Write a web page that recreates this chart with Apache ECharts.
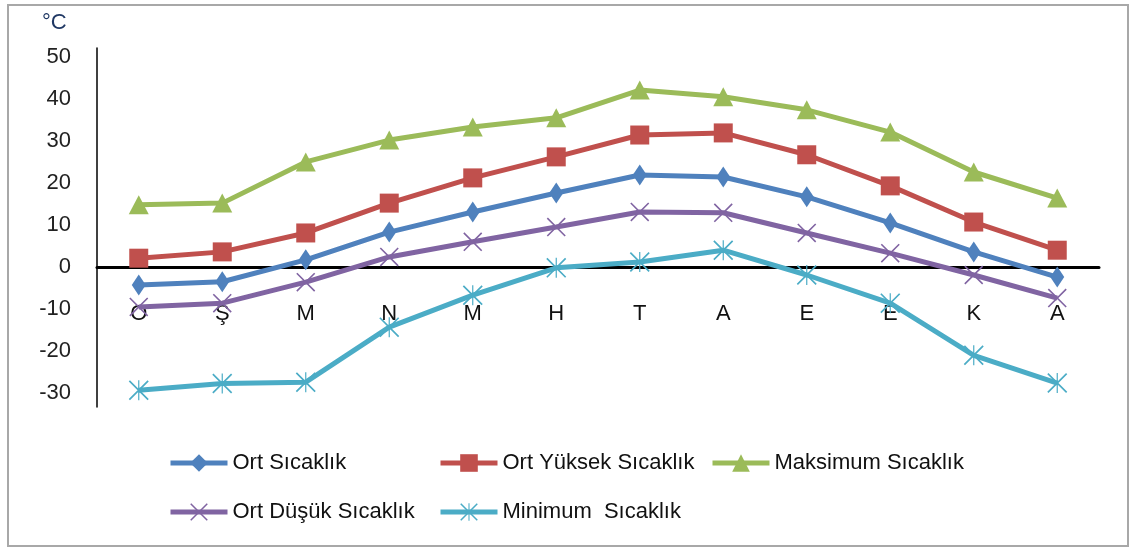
<!DOCTYPE html>
<html>
<head>
<meta charset="utf-8">
<script src="https://cdn.jsdelivr.net/npm/echarts@6/dist/echarts.min.js"></script>
<style>
html,body{margin:0;padding:0;background:#fff;}
#chart{width:1130px;height:548px;}
</style>
</head>
<body>
<div id="chart"></div>
<script>
const categories = ['O', 'Ş', 'M', 'N', 'M', 'H', 'T', 'A', 'E', 'E', 'K', 'A'];
const yTickValues = [-30, -20, -10, 0, 10, 20, 30, 40, 50];
const seriesNames = ['Ort Sıcaklık', 'Ort Yüksek Sıcaklık', 'Maksimum Sıcaklık', 'Ort Düşük Sıcaklık', 'Minimum  Sıcaklık'];
const ortSicaklik = [-4.3, -3.5, 1.7, 8.3, 13.1, 17.6, 21.9, 21.4, 16.7, 10.5, 3.6, -2.4];
const ortYuksek = [2.1, 3.6, 8.1, 15.2, 21.2, 26.2, 31.4, 31.9, 26.7, 19.3, 10.7, 4.0];
const maksimum = [14.8, 15.2, 25.0, 30.2, 33.3, 35.5, 42.1, 40.5, 37.4, 32.1, 22.6, 16.4];
const ortDusuk = [-9.5, -8.6, -3.6, 2.4, 6.0, 9.5, 13.1, 12.9, 8.1, 3.3, -1.9, -7.4];
const minimum = [-29.3, -27.7, -27.4, -14.3, -6.7, -0.2, 1.2, 4.0, -1.9, -8.6, -21.0, -27.6];

const xPath = 'path://M0 1.2 L1.2 0 L20 18.8 L18.8 20 Z M18.8 0 L20 1.2 L1.2 20 L0 18.8 Z';
const starPath = 'path://M0 1.2 L1.2 0 L20 18.8 L18.8 20 Z M18.8 0 L20 1.2 L1.2 20 L0 18.8 Z M9.4 0 L10.6 0 L10.6 20 L9.4 20 Z';

const FONT = 'Liberation Sans';
const chart = echarts.init(document.getElementById('chart'), null, {renderer: 'canvas'});

function mkSeries(name, data, color, symbol, size) {
  return {
    name: name, type: 'line', data: data,
    symbol: symbol, symbolSize: size,
    itemStyle: {color: color},
    lineStyle: {color: color, width: 5},
    emphasis: {disabled: true}
  };
}
function mkLegend(name, left, top) {
  return {
    data: [name], left: left, top: top, padding: 0,
    itemWidth: 57, itemHeight: 22, itemGap: 4,
    lineStyle: {width: 5},
    textStyle: {fontFamily: FONT, fontSize: 22, color: '#111'}
  };
}

chart.setOption({
  animation: false,
  backgroundColor: '#fff',
  grid: {left: 97, right: 31, top: 48, bottom: 141, containLabel: false},
  graphic: [
    {type: 'rect', shape: {x: 8, y: 5, width: 1120, height: 541}, style: {fill: 'none', stroke: '#a8a8a8', lineWidth: 2}, silent: true},
    {type: 'text', left: 42, top: 12, style: {text: '°C', fontFamily: FONT, fontSize: 22, fill: '#203864'}}
  ],
  legend: [
    mkLegend(seriesNames[0], 168, 452),
    mkLegend(seriesNames[1], 438, 452),
    mkLegend(seriesNames[2], 710, 452),
    mkLegend(seriesNames[3], 168, 501),
    mkLegend(seriesNames[4], 438, 501)
  ],
  xAxis: {
    type: 'category', data: categories, boundaryGap: true,
    axisLine: {onZero: true, lineStyle: {color: '#000', width: 3}},
    axisTick: {show: false},
    splitLine: {show: false},
    axisLabel: {margin: -104, fontFamily: FONT, fontSize: 22, color: '#111', interval: 0}
  },
  yAxis: {
    type: 'value', min: -33.3, max: 52.1,
    axisLine: {show: true, onZero: false, lineStyle: {color: '#000', width: 1.5}},
    axisTick: {show: false},
    splitLine: {show: false},
    axisLabel: {customValues: yTickValues, margin: 26, fontFamily: FONT, fontSize: 22, color: '#222'}
  },
  series: [
    mkSeries(seriesNames[0], ortSicaklik, '#4F81BD', 'diamond', [14, 21]),
    mkSeries(seriesNames[1], ortYuksek, '#C0504D', 'rect', 19),
    mkSeries(seriesNames[2], maksimum, '#9BBB59', 'triangle', [20, 19]),
    mkSeries(seriesNames[3], ortDusuk, '#8064A2', xPath, 19),
    mkSeries(seriesNames[4], minimum, '#4BACC6', starPath, 20)
  ]
});
</script>
</body>
</html>
